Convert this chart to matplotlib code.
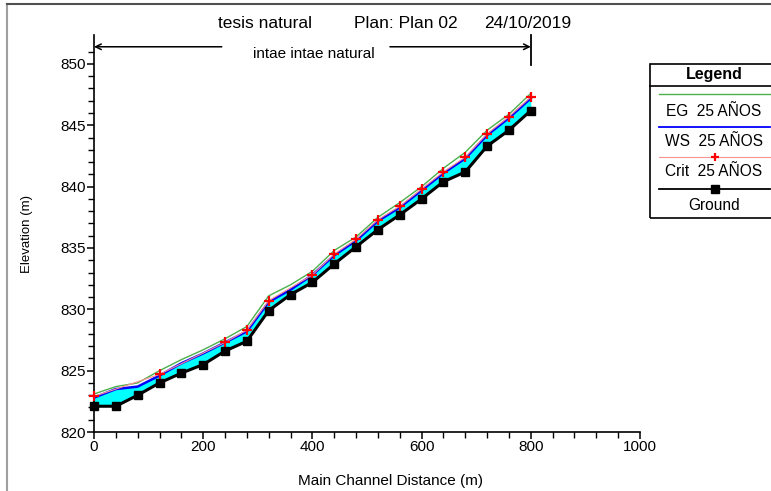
import numpy as np
import matplotlib
matplotlib.use("Agg")
import matplotlib.pyplot as plt
from matplotlib.lines import Line2D
from matplotlib.patches import Rectangle
from matplotlib import font_manager

plt.rcParams['font.family'] = ['Liberation Sans', 'DejaVu Sans']
names = {f.name for f in font_manager.fontManager.ttflist}
narrow = ['Liberation Sans Narrow', 'Liberation Sans', 'DejaVu Sans'] if 'Liberation Sans Narrow' in names \
    else ['Liberation Sans', 'DejaVu Sans']

# ---- data ----
station = [0, 40, 80, 120, 160, 200, 240, 280, 320, 360, 400,
           440, 480, 520, 560, 600, 640, 680, 720, 760, 800]
ground = [822.1, 822.1, 823.0, 824.0, 824.8, 825.5, 826.6, 827.4, 829.9, 831.2, 832.2,
          833.7, 835.1, 836.5, 837.7, 839.0, 840.4, 841.2, 843.3, 844.6, 846.2]
ws = [822.8, 823.5, 823.7, 824.6, 825.6, 826.4, 827.3, 828.2, 830.6, 831.6, 832.8,
      834.4, 835.6, 837.2, 838.3, 839.7, 841.1, 842.3, 844.2, 845.6, 847.2]
eg = [823.1, 823.7, 824.0, 825.0, 825.9, 826.7, 827.6, 828.6, 831.1, 832.0, 833.1,
      834.8, 835.9, 837.5, 838.7, 840.0, 841.5, 842.8, 844.6, 845.9, 847.6]
crit_station = [0, 120, 240, 280, 320, 400, 440, 480, 520, 560, 600, 640, 680, 720, 760, 800]
crit = [822.9, 824.7, 827.3, 828.3, 830.7, 832.8, 834.5, 835.7, 837.3, 838.4, 839.8,
        841.2, 842.4, 844.3, 845.7, 847.3]

title_parts = ["tesis natural", "Plan: Plan 02", "24/10/2019"]
reach_label = "intae intae natural"
legend_labels = ["EG  25 AÑOS", "WS  25 AÑOS", "Crit  25 AÑOS", "Ground"]

W, H = 771, 491
fig = plt.figure(figsize=(W / 100, H / 100), dpi=100)
ax = fig.add_axes([94 / W, 1 - 432 / H, (640 - 94) / W, (432 - 35) / H])
ax.set_xlim(0, 1000)
ax.set_ylim(820, 852.36)

ax.fill_between(station, ground, ws, color='#00FFFF', lw=0, zorder=1)
ax.plot(station, eg, color='#4CB04C', lw=1.0, zorder=2)
ax.plot(station, ws, color='#0000FF', lw=1.8, zorder=3)
ax.plot(crit_station, crit, color='#FF9090', lw=0.8, zorder=4)
ax.plot(crit_station, crit, ls='none', marker='+', ms=6.5, mew=1.6, color='#FF0000',
        zorder=5, clip_on=False)
ax.plot(station, ground, color='black', lw=2.2, marker='s', ms=6, zorder=6, clip_on=False)

for s in ['top', 'right']:
    ax.spines[s].set_visible(False)
ax.spines['left'].set_linewidth(1.2)
ax.spines['bottom'].set_linewidth(1.2)
ax.set_xticks(np.arange(0, 1001, 200))
ax.set_xticks(np.arange(0, 1001, 40), minor=True)
ax.set_yticks(np.arange(820, 851, 5))
ax.set_yticks(np.arange(820, 852, 1), minor=True)
ax.tick_params(which='major', direction='out', length=5, width=1.1, labelsize=11, pad=1)
ax.tick_params(which='minor', direction='out', length=4, width=1.0)
ax.set_xlabel("Main Channel Distance (m)", fontsize=11, va='center')
ax.xaxis.set_label_coords((391 - 94) / 546, -(481 - 432) / 397)
ax.set_ylabel("Elevation (m)", fontsize=9.5, family=narrow, va='center')
ax.yaxis.set_label_coords(-(94 - 27) / 546, (432 - 234) / 397)

# reach annotation
ya = 851.4
ax.annotate('', xy=(0, ya), xytext=(234, ya),
            arrowprops=dict(arrowstyle='->', lw=1.1, color='black', shrinkA=0, shrinkB=0))
ax.annotate('', xy=(800, ya), xytext=(542, ya),
            arrowprops=dict(arrowstyle='->', lw=1.1, color='black', shrinkA=0, shrinkB=0))
ax.plot([800, 800], [849.9, 852.36], color='black', lw=1.3, clip_on=False)
ax.text(402, 850.85, reach_label, ha='center', va='center', fontsize=11)

# title
ty = 1 - 23 / H
fig.text(265 / W, ty, title_parts[0], ha='center', va='center', fontsize=12.5)
fig.text(406 / W, ty, title_parts[1], ha='center', va='center', fontsize=12.5)
fig.text(528 / W, ty, title_parts[2], ha='center', va='center', fontsize=12.5)

# figure frame
fig.add_artist(Line2D([7 / W, 7 / W], [0, 1 - 4 / H], color='#A0A0A0', lw=1.5))
fig.add_artist(Line2D([7 / W, 1], [1 - 4 / H, 1 - 4 / H], color='#505050', lw=1.5))

# legend box
lx0, lx1 = 650, 775
ly0, ly1 = 64, 218
def fx(p): return p / W
def fy(p): return 1 - p / H
fig.add_artist(Rectangle((fx(lx0), fy(ly1)), fx(lx1 - lx0), (ly1 - ly0) / H,
                         fill=False, ec='black', lw=1.2))
fig.add_artist(Line2D([fx(lx0), fx(lx1)], [fy(86), fy(86)], color='black', lw=1.2))
fig.text(fx(714), fy(74), "Legend", ha='center', va='center', fontsize=11.5, fontweight='bold')
cx = 714
fig.add_artist(Line2D([fx(659), fx(770)], [fy(94), fy(94)], color='#4CB04C', lw=1.0))
fig.text(fx(cx), fy(111), legend_labels[0], ha='center', va='center', fontsize=11.2)
fig.add_artist(Line2D([fx(659), fx(770)], [fy(127), fy(127)], color='#0000FF', lw=1.3))
fig.text(fx(cx), fy(142), legend_labels[1], ha='center', va='center', fontsize=11.2)
fig.add_artist(Line2D([fx(659), fx(770)], [fy(157), fy(157)], color='#FF9090', lw=0.8))
fig.add_artist(Line2D([fx(715)], [fy(157)], color='red', marker='+', ms=6, mew=1.6, ls='none'))
fig.text(fx(cx), fy(172), legend_labels[2], ha='center', va='center', fontsize=11.2)
fig.add_artist(Line2D([fx(659), fx(770)], [fy(189), fy(189)], color='black', lw=1.3))
fig.add_artist(Line2D([fx(715)], [fy(189)], color='black', marker='s', ms=6, ls='none'))
fig.text(fx(cx), fy(206), legend_labels[3], ha='center', va='center', fontsize=11.2)

fig.savefig("out.png", dpi=100)
